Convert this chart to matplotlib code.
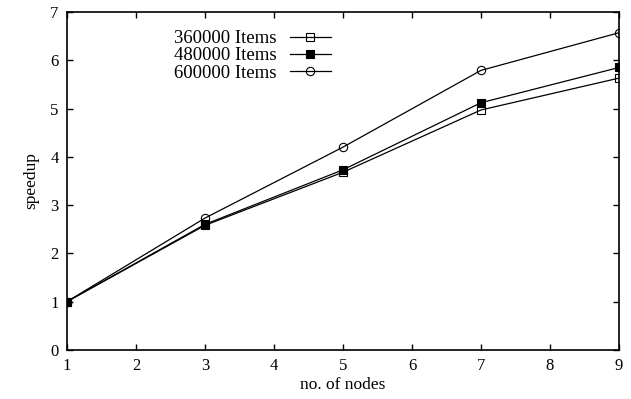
import matplotlib
matplotlib.use("Agg")
import matplotlib.pyplot as plt

plt.rcParams['font.family'] = ['Liberation Serif', 'DejaVu Serif']

nodes = [1, 3, 5, 7, 9]
items_360k = [1.0, 2.58, 3.68, 4.97, 5.63]
items_480k = [1.0, 2.6, 3.73, 5.12, 5.85]
items_600k = [1.0, 2.73, 4.2, 5.79, 6.57]
labels = ["360000 Items", "480000 Items", "600000 Items"]

fig = plt.figure(figsize=(6.31, 3.99), dpi=100)
ax = fig.add_axes([0.106, 0.123, 0.875, 0.847])

ax.plot(nodes, items_360k, color='black', lw=0.9, marker='s', ms=5.5,
        mfc='none', mec='black', mew=0.8, label=labels[0], zorder=2)
ax.plot(nodes, items_480k, color='black', lw=0.9, marker='s', ms=5.5,
        mfc='black', mec='black', mew=0.8, label=labels[1], zorder=4)
ax.plot(nodes, items_600k, color='black', lw=0.9, marker='o', ms=6,
        mfc='none', mec='black', mew=0.8, label=labels[2], zorder=3)

ax.set_xlim(1, 9)
ax.set_ylim(0, 7)
ax.set_xticks(range(1, 10))
ax.set_yticks(range(0, 8))
ax.tick_params(direction='in', top=True, right=True, length=4, width=1,
               labelsize=12, pad=6)
for s in ax.spines.values():
    s.set_linewidth(1.2)

ax.set_xlabel("no. of nodes", fontsize=12.5, labelpad=2)
ax.set_ylabel("speedup", fontsize=12.5, labelpad=8)

ax.legend(loc='upper left', bbox_to_anchor=(0.17, 0.985), frameon=False,
          markerfirst=False, fontsize=13.5, handlelength=2.2,
          labelspacing=0.0, handletextpad=0.7, borderpad=0.2)

fig.savefig("out.png", dpi=100)
